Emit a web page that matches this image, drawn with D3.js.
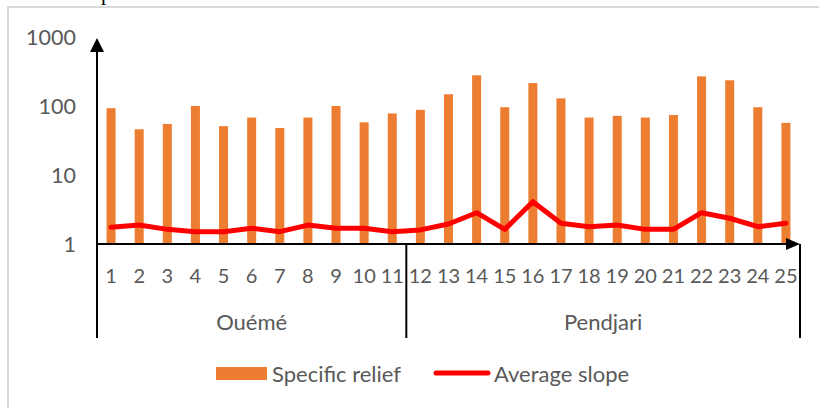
<!DOCTYPE html>
<html>
<head>
<meta charset="utf-8">
<script src="https://cdn.jsdelivr.net/npm/d3@7"></script>
<style>
  html, body { margin: 0; padding: 0; background: #fff; }
  svg { display: block; }
  text { font-family: Lato, "Open Sans", sans-serif; fill: #595959; }
</style>
</head>
<body>
<svg id="chart" width="819" height="408"></svg>
<script>
const categories = ["1","2","3","4","5","6","7","8","9","10","11","12","13","14","15","16","17","18","19","20","21","22","23","24","25"];
const specificRelief = [93, 46, 55, 100, 51, 68, 48, 68, 100, 58, 78, 88, 148, 278, 96, 215, 129, 68, 72, 68, 74, 269, 236, 96, 57];
const averageSlope = [1.75, 1.88, 1.63, 1.51, 1.51, 1.69, 1.51, 1.88, 1.69, 1.69, 1.51, 1.6, 1.95, 2.84, 1.63, 4.1, 2.0, 1.78, 1.88, 1.63, 1.63, 2.84, 2.36, 1.78, 2.0];
const groups = [{name: "Ouémé", from: "1", to: "11"}, {name: "Pendjari", from: "12", to: "25"}];
const yTicks = [1, 10, 100, 1000];
const legendLabels = ["Specific relief", "Average slope"];

const svg = d3.select("#chart");

// outer frame
svg.append("rect").attr("x", 8).attr("y", 7).attr("width", 830).attr("height", 420)
  .attr("fill", "none").attr("stroke", "#d9d9d9").attr("stroke-width", 2);

// clipped text fragment from above
svg.append("text").attr("x", 101).attr("y", 0)
  .style("font-family", "'Liberation Serif', serif").style("fill", "#000").attr("font-size", 21).text("p");

const x0 = 97, x1 = 800;
const x = d3.scaleBand().domain(categories).range([x0, x1]).padding(0);
const y = d3.scaleLog().domain([1, 1000]).range([244, 37]);

// bars
svg.append("g").selectAll("rect").data(specificRelief).join("rect")
  .attr("x", (d, i) => x(categories[i]) + x.bandwidth() / 2 - 4.5)
  .attr("width", 9)
  .attr("y", d => y(d))
  .attr("height", d => y(1) - y(d))
  .attr("fill", "#ED7D31");

// line
const line = d3.line()
  .x((d, i) => x(categories[i]) + x.bandwidth() / 2)
  .y(d => y(d));
svg.append("path").datum(averageSlope).attr("d", line)
  .attr("fill", "none").attr("stroke", "#FF0000").attr("stroke-width", 5)
  .attr("stroke-linejoin", "round").attr("stroke-linecap", "round");

// y axis line with arrow
svg.append("line").attr("x1", x0).attr("x2", x0).attr("y1", y(1) + 1).attr("y2", 50)
  .attr("stroke", "#000").attr("stroke-width", 2);
svg.append("path").attr("d", `M${x0 - 7},${52} L${x0},${38} L${x0 + 7},${52} Z`).attr("fill", "#000");

// x axis line with arrow
svg.append("line").attr("x1", x0).attr("x2", 788).attr("y1", y(1)).attr("y2", y(1))
  .attr("stroke", "#000").attr("stroke-width", 2);
svg.append("path").attr("d", `M${786},${y(1) - 6} L${x1},${y(1)} L${786},${y(1) + 6} Z`).attr("fill", "#000");

// y tick labels
svg.append("g").selectAll("text").data(yTicks).join("text")
  .attr("x", 76).attr("y", d => y(d)).attr("dy", "0.35em")
  .attr("text-anchor", "end").attr("font-size", 21.5).text(d => d);

// x tick labels
svg.append("g").selectAll("text").data(categories).join("text")
  .attr("x", d => x(d) + x.bandwidth() / 2).attr("y", 276).attr("dy", "0.35em")
  .attr("text-anchor", "middle").attr("font-size", 20).text(d => d);

// group separators
const seps = [x0, x(groups[1].from), x1];
svg.append("g").selectAll("line").data(seps).join("line")
  .attr("x1", d => d).attr("x2", d => d).attr("y1", y(1)).attr("y2", 338)
  .attr("stroke", "#000").attr("stroke-width", 2);

// group labels
svg.append("g").selectAll("text").data(groups).join("text")
  .attr("x", g => (x(g.from) + x(g.to) + x.bandwidth()) / 2).attr("y", 322).attr("dy", "0.35em")
  .attr("text-anchor", "middle").attr("font-size", 22).text(g => g.name);

// legend
svg.append("rect").attr("x", 216).attr("y", 367).attr("width", 51).attr("height", 13).attr("fill", "#ED7D31");
svg.append("text").attr("x", 272).attr("y", 374).attr("dy", "0.35em").attr("font-size", 22).text(legendLabels[0]);
svg.append("line").attr("x1", 436).attr("x2", 488).attr("y1", 373).attr("y2", 373)
  .attr("stroke", "#FF0000").attr("stroke-width", 5).attr("stroke-linecap", "round");
svg.append("text").attr("x", 494).attr("y", 374).attr("dy", "0.35em").attr("font-size", 22).text(legendLabels[1]);
</script>
</body>
</html>
